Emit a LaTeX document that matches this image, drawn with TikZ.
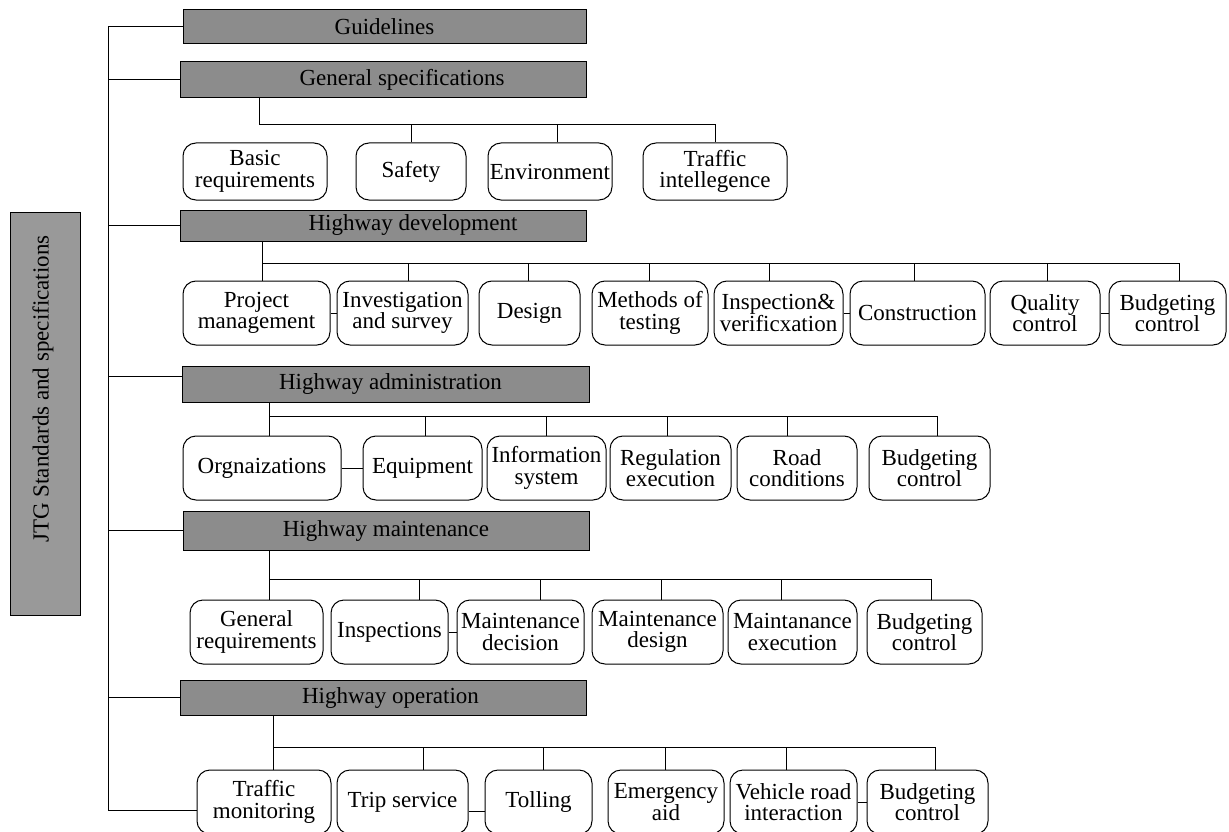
\documentclass[tikz,border=0pt]{standalone}
\usepackage{fontspec}
\setmainfont{Liberation Serif}
\definecolor{hdrgray}{RGB}{140,140,140}
\definecolor{jtggray}{RGB}{153,153,153}
\newcommand\fsz{\fontsize{23}{21.5}\selectfont}
\tikzset{
  hdr/.style={draw, fill=hdrgray, inner sep=0pt, font=\fsz},
  leaf/.style={draw, fill=white, rounded corners=13pt, align=center, inner sep=0pt, font=\fsz},
}
\begin{document}
\begin{tikzpicture}[x=1pt, y=-1pt, line width=1pt]
\useasboundingbox (0,0) rectangle (1229,832);

% left title box
\node[draw, fill=jtggray, minimum width=70pt, minimum height=403pt, inner sep=0pt] (jtg) at (45,413.5) {};
\node[rotate=90, font=\fsz, inner sep=0pt] (jtgt) at (43,389) {JTG Standards and specifications};

% header boxes
\node[hdr, minimum width=403pt, minimum height=34pt] (gl) at (384.5,27) {Guidelines};
\node[hdr, minimum width=406pt, minimum height=36pt] (gs) at (383,80) {\hspace*{38pt}General specifications};
\node[hdr, minimum width=406pt, minimum height=31pt] (hd) at (383,225.5) {\hspace*{60pt}Highway development};
\node[hdr, minimum width=407pt, minimum height=36pt] (ha) at (385.5,384) {\hspace*{10pt}Highway administration};
\node[hdr, minimum width=406pt, minimum height=39pt] (hm) at (386,530.5) {Highway maintenance};
\node[hdr, minimum width=406pt, minimum height=35pt] (ho) at (383,697.5) {\hspace*{15pt}Highway operation};

% general specifications children
\node[leaf, minimum width=144pt, minimum height=57pt] (br) at (255,171.5) {Basic\\requirements};
\node[leaf, minimum width=110pt, minimum height=57pt] (sf) at (411,171.5) {Safety};
\node[leaf, minimum width=124pt, minimum height=57pt] (en) at (550,171.5) {Environment};
\node[leaf, minimum width=144pt, minimum height=57pt] (ti) at (715,171.5) {Traffic\\intellegence};

% highway development children
\node[leaf, minimum width=147pt, minimum height=64pt] (pm) at (256.5,313) {Project\\management};
\node[leaf, minimum width=131pt, minimum height=64pt] (is) at (402.5,313) {Investigation\\and survey};
\node[leaf, minimum width=101pt, minimum height=64pt] (de) at (529.5,313) {Design};
\node[leaf, minimum width=116pt, minimum height=64pt] (mt) at (650,313) {Methods of\\testing};
\node[leaf, minimum width=129pt, minimum height=64pt] (iv) at (778.5,313) {Inspection\&\\verificxation};
\node[leaf, minimum width=135pt, minimum height=64pt] (co) at (917.5,313) {Construction};
\node[leaf, minimum width=110pt, minimum height=64pt] (qc) at (1045,313) {Quality\\control};
\node[leaf, minimum width=117pt, minimum height=64pt] (bc) at (1167.5,313) {Budgeting\\control};

% highway administration children
\node[leaf, minimum width=158pt, minimum height=64pt] (or) at (262,468) {Orgnaizations};
\node[leaf, minimum width=119pt, minimum height=64pt] (eq) at (422.5,468) {Equipment};
\node[leaf, minimum width=119pt, minimum height=64pt] (in) at (546.5,468) {Information\\system};
\node[leaf, minimum width=121pt, minimum height=64pt] (re) at (670.5,468) {Regulation\\execution};
\node[leaf, minimum width=120pt, minimum height=64pt] (rc) at (797,468) {Road\\conditions};
\node[leaf, minimum width=121pt, minimum height=64pt] (bcb) at (929.5,468) {Budgeting\\control};

% highway maintenance children
\node[leaf, minimum width=133pt, minimum height=64pt] (gr) at (256.5,632) {General\\requirements};
\node[leaf, minimum width=117pt, minimum height=64pt] (ip) at (389.5,632) {Inspections};
\node[leaf, minimum width=127pt, minimum height=64pt] (md) at (520.5,632) {Maintenance\\decision};
\node[leaf, minimum width=131pt, minimum height=64pt] (mg) at (657.5,632) {Maintenance\\design};
\node[leaf, minimum width=129pt, minimum height=64pt] (me) at (792.5,632) {Maintanance\\execution};
\node[leaf, minimum width=115pt, minimum height=64pt] (bcc) at (924.5,632) {Budgeting\\control};

% highway operation children
\node[leaf, minimum width=134pt, minimum height=64pt] (tm) at (264,802) {Traffic\\monitoring};
\node[leaf, minimum width=131pt, minimum height=64pt] (ts) at (402.5,802) {Trip service};
\node[leaf, minimum width=107pt, minimum height=64pt] (to) at (538.5,802) {Tolling};
\node[leaf, minimum width=116pt, minimum height=64pt] (ea) at (666,802) {Emergency\\aid};
\node[leaf, minimum width=127pt, minimum height=64pt] (vr) at (793.5,802) {Vehicle road\\interaction};
\node[leaf, minimum width=121pt, minimum height=64pt] (bcd) at (927.5,802) {Budgeting\\control};

% spine
\coordinate (sTop) at (108,27);
\coordinate (sBot) at (108,810);
\coordinate (bha) at (108,376);
\draw (gl.west) -- (gl.west -| sTop) -- (sBot) -- (sBot -| tm.west);
\draw (sTop |- gs.west) -- (gs.west);
\draw (sTop |- hd.west) -- (hd.west);
\draw (bha) -- (bha -| ha.west);
\draw (sTop |- hm.west) -- (hm.west);
\draw (sTop |- ho.west) -- (ho.west);

% general specifications tree
\coordinate (t1) at (259,125);
\draw (t1 |- gs.south) -- (t1) -| (ti.north);
\draw (sf.north) -- (sf.north |- t1);
\draw ([xshift=7pt]en.north) -- ([xshift=7pt]en.north |- t1);

% highway development tree
\coordinate (t2) at (262,263);
\draw (t2 |- hd.south) -- (t2 |- pm.north);
\draw (t2) -| ([xshift=11.5pt]bc.north);
\draw ([xshift=5.5pt]is.north) -- ([xshift=5.5pt]is.north |- t2);
\draw ([xshift=-1.5pt]de.north) -- ([xshift=-1.5pt]de.north |- t2);
\draw ([xshift=-1pt]mt.north) -- ([xshift=-1pt]mt.north |- t2);
\draw ([xshift=-9.5pt]iv.north) -- ([xshift=-9.5pt]iv.north |- t2);
\draw ([xshift=-3.5pt]co.north) -- ([xshift=-3.5pt]co.north |- t2);
\draw ([xshift=2pt]qc.north) -- ([xshift=2pt]qc.north |- t2);
\draw (pm.east) -- (is.west);
\draw (iv.east) -- (co.west);
\draw (qc.east) -- (bc.west);

% highway administration tree
\coordinate (t3) at (269,416);
\draw (t3 |- ha.south) -- (t3 |- or.north);
\draw (t3) -| ([xshift=7.5pt]bcb.north);
\draw ([xshift=2.5pt]eq.north) -- ([xshift=2.5pt]eq.north |- t3);
\draw (in.north) -- (in.north |- t3);
\draw ([xshift=-3.5pt]re.north) -- ([xshift=-3.5pt]re.north |- t3);
\draw ([xshift=-10pt]rc.north) -- ([xshift=-10pt]rc.north |- t3);
\draw (or.east) -- (eq.west);

% highway maintenance tree
\coordinate (t4) at (269,579);
\draw (t4 |- hm.south) -- (t4 |- gr.north);
\draw (t4) -| ([xshift=6.5pt]bcc.north);
\draw ([xshift=29.5pt]ip.north) -- ([xshift=29.5pt]ip.north |- t4);
\draw ([xshift=19.5pt]md.north) -- ([xshift=19.5pt]md.north |- t4);
\draw ([xshift=3.5pt]mg.north) -- ([xshift=3.5pt]mg.north |- t4);
\draw ([xshift=-11.5pt]me.north) -- ([xshift=-11.5pt]me.north |- t4);
\draw (ip.east) -- (md.west);

% highway operation tree
\coordinate (t5) at (273,747);
\draw (t5 |- ho.south) -- (t5 |- tm.north);
\draw (t5) -| ([xshift=7.5pt]bcd.north);
\draw ([xshift=20.5pt]ts.north) -- ([xshift=20.5pt]ts.north |- t5);
\draw ([xshift=4.5pt]to.north) -- ([xshift=4.5pt]to.north |- t5);
\draw ([xshift=-1pt]ea.north) -- ([xshift=-1pt]ea.north |- t5);
\draw ([xshift=-7.5pt]vr.north) -- ([xshift=-7.5pt]vr.north |- t5);
\draw ([yshift=-9pt]ts.east) -- ([yshift=-9pt]to.west);
\draw (vr.east) -- (bcd.west);
\end{tikzpicture}
\end{document}
